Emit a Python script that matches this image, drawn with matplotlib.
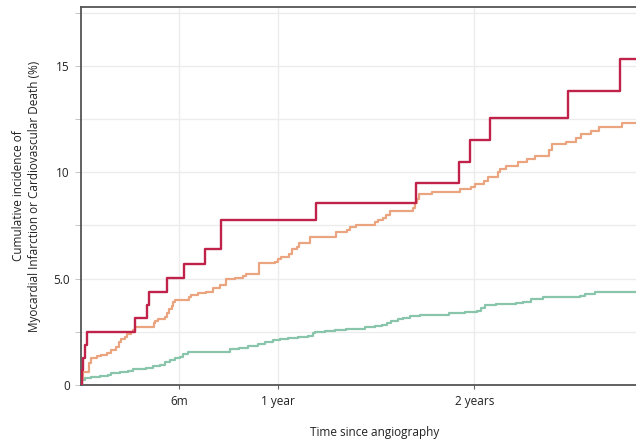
import matplotlib
matplotlib.use('Agg')
import matplotlib.pyplot as plt

plt.rcParams['font.family'] = ['Open Sans', 'DejaVu Sans']

# cumulative incidence curves, time in days since angiography, values in %
red_days = [0, 1, 4, 7, 12, 100, 123, 127, 160, 191, 230, 259, 437, 621, 702, 722, 759, 904, 1000, 1030]
red_pct = [0, 0.7, 1.27, 1.88, 2.5, 3.15, 3.76, 4.39, 5.04, 5.69, 6.38, 7.76, 8.57, 9.5, 10.5, 11.5,
           12.57, 13.84, 15.33, 15.33]

orange_days = [0, 1, 4, 15, 19, 30, 37, 49, 56, 65, 70, 75, 81, 86, 92, 96, 100, 135, 138, 143, 156,
               160, 163, 168, 171, 175, 200, 205, 217, 232, 245, 258, 270, 286, 300, 307, 331, 360,
               366, 372, 386, 391, 400, 405, 425, 473, 493, 499, 511, 545, 552, 560, 566, 573, 617,
               620, 623, 628, 651, 703, 724, 731, 748, 756, 774, 777, 788, 811, 827, 842, 869, 874,
               901, 918, 928, 946, 962, 1004, 1030]
orange_pct = [0, 0.3, 0.62, 1.05, 1.25, 1.36, 1.41, 1.49, 1.65, 1.8, 2.04, 2.15, 2.27, 2.4, 2.51, 2.59,
              2.71, 2.9, 3.02, 3.09, 3.18, 3.4, 3.56, 3.71, 3.92, 4.0, 4.13, 4.23, 4.31, 4.39, 4.55,
              4.7, 4.97, 5.04, 5.12, 5.22, 5.72, 5.8, 5.92, 6.03, 6.16, 6.38, 6.5, 6.66, 6.97, 7.21,
              7.29, 7.41, 7.52, 7.64, 7.75, 7.87, 7.98, 8.2, 8.34, 8.55, 8.74, 8.96, 9.06, 9.2, 9.32,
              9.43, 9.6, 9.79, 10.03, 10.15, 10.31, 10.5, 10.63, 10.78, 11.05, 11.32, 11.42, 11.6,
              11.79, 11.96, 12.14, 12.33, 12.33]

green_days = [0, 1, 7, 19, 35, 50, 56, 72, 87, 96, 121, 134, 146, 156, 165, 174, 183, 189, 198, 248,
              276, 294, 310, 328, 341, 356, 369, 384, 403, 421, 430, 434, 452, 471, 492, 527, 545,
              558, 567, 576, 589, 598, 610, 629, 683, 712, 734, 743, 750, 771, 808, 821, 836, 858,
              926, 935, 954, 1030]
green_pct = [0, 0.23, 0.34, 0.39, 0.44, 0.47, 0.55, 0.6, 0.66, 0.74, 0.81, 0.89, 0.94, 1.07, 1.18,
             1.25, 1.33, 1.44, 1.54, 1.57, 1.68, 1.75, 1.82, 1.91, 2.0, 2.12, 2.16, 2.22, 2.27, 2.32,
             2.43, 2.5, 2.55, 2.6, 2.65, 2.71, 2.77, 2.83, 2.93, 2.99, 3.09, 3.16, 3.24, 3.29, 3.37,
             3.42, 3.49, 3.63, 3.75, 3.81, 3.87, 3.92, 4.03, 4.12, 4.2, 4.28, 4.36, 4.36]

x_ticks = [182.5, 365, 730]
x_labels = ['6m', '1 year', '2 years']
y_ticks = [0, 2.5, 5, 7.5, 10, 12.5, 15, 17.5]
y_labels = ['0', '', '5.0', '', '10', '', '15', '']

fig = plt.figure(figsize=(6.36, 4.4), dpi=100)
ax = fig.add_axes([81 / 636, 55 / 440, 555 / 636, 378 / 440])

ax.step(green_days, green_pct, where='post', color='#88c5ab', lw=1.6, zorder=3)
ax.step(orange_days, orange_pct, where='post', color='#eaa47f', lw=1.6, zorder=3)
ax.step(red_days, red_pct, where='post', color='#c0224a', lw=1.7, zorder=4)

ax.set_xlim(0, 1030)
ax.set_ylim(0, 17.77)
ax.set_xticks(x_ticks)
ax.set_xticklabels(x_labels)
ax.set_yticks(y_ticks)
ax.set_yticklabels(y_labels)
ax.grid(True, color='#ececec', lw=1.0, zorder=0)
ax.set_axisbelow(True)

for side in ['left', 'top', 'bottom']:
    ax.spines[side].set_color('#555555')
    ax.spines[side].set_linewidth(1.3)
ax.spines['right'].set_visible(False)

ax.tick_params(axis='x', length=3, width=0.8, color='#666666', labelsize=8.5,
               labelcolor='#222222', pad=4)
ax.tick_params(axis='y', length=4, width=0.6, color='#bbbbbb', labelsize=8.5,
               labelcolor='#222222', pad=4)

ax.set_xlabel('Time since angiography', fontsize=8.5, color='#222222')
ax.xaxis.set_label_coords(0.529, -0.108)
ax.set_ylabel('Cumulative incidence of\nMyocardial Infarction or Cardiovascular Death (%)',
              fontsize=8.5, color='#222222', linespacing=1.3)
ax.yaxis.set_label_coords(-0.072, 0.5)

fig.savefig('out.png', dpi=100)
